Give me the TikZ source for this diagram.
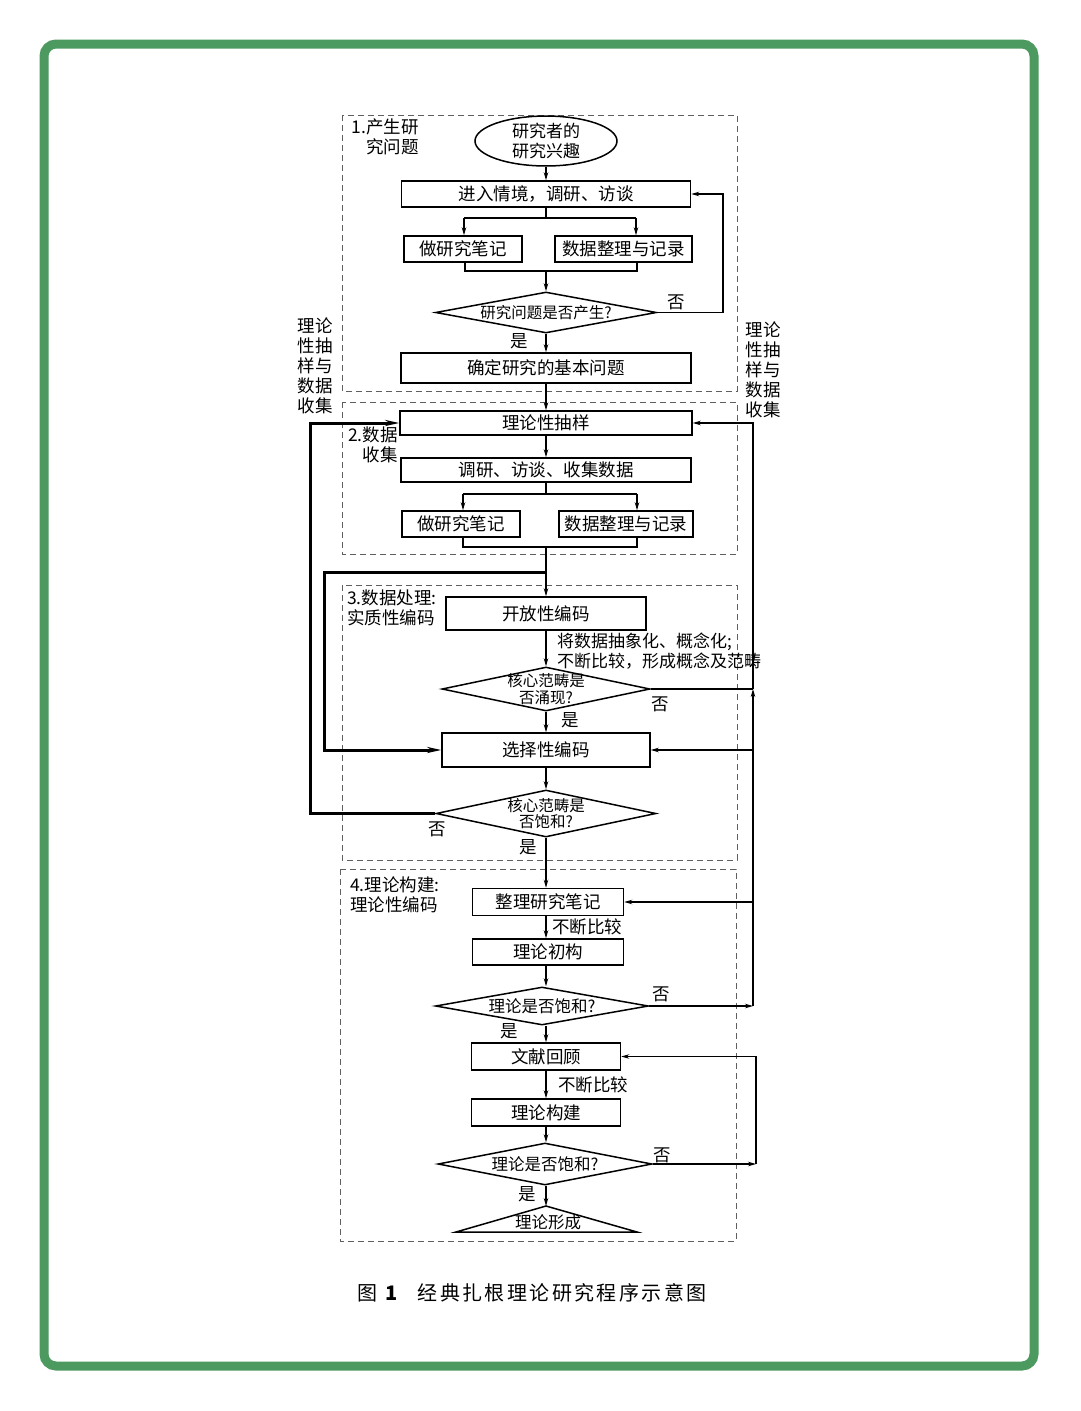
\documentclass[tikz,border=0pt]{standalone}
\usepackage{fontspec}
\setmainfont{Noto Sans CJK SC}
\usetikzlibrary{shapes.geometric,arrows.meta}
\definecolor{framec}{RGB}{76,154,96}
\definecolor{sectc}{RGB}{95,95,95}
\begin{document}
\begin{tikzpicture}[x=1pt,y=-1pt,
  box/.style={draw, line width=1.5pt, inner sep=0pt, font=\fontsize{17.5}{19}\selectfont},
  dia/.style={draw, diamond, line width=1.5pt, inner sep=0pt},
  dtxt/.style={font=\fontsize{15.5}{16.5}\selectfont, align=center, inner sep=0pt},
  lab/.style={font=\fontsize{17.5}{20}\selectfont, inner sep=0pt},
  sect/.style={draw=sectc, line width=0.9pt, dash pattern=on 6pt off 4pt},
  conn/.style={line width=1.1pt, -{Stealth[length=8pt,width=4.5pt]}},
  link/.style={line width=1.1pt},
  heavy/.style={line width=3pt, -{Stealth[length=14pt,width=6pt]}}]
\useasboundingbox (0,0) rectangle (1080,1411);
\fill[white] (0,0) rectangle (1080,1411);
\draw[draw=framec, line width=9pt, rounded corners=12pt] (44,44) rectangle (1034,1366);

% section frames
\draw[sect] (342,115) rectangle (737,391);
\draw[sect] (342,402) rectangle (737,554);
\draw[sect] (342,585) rectangle (737,860);
\draw[sect] (340,869) rectangle (736,1241);

% section labels
\node[lab, anchor=north east, align=right] (L1) at (419,119) {1.产生研\\究问题};
\node[lab, anchor=north east, align=right] (L2) at (398,427) {2.数据\\收集};
\node[lab, anchor=north west, align=left] (L3) at (347,590) {3.数据处理:\\实质性编码};
\node[lab, anchor=north west, align=left] (L4) at (350,877) {4.理论构建:\\理论性编码};
\node[lab, align=center, font=\fontsize{17.5}{20}\selectfont] (sideL) at (315,366) {理论\\性抽\\样与\\数据\\收集};
\node[lab, align=center, font=\fontsize{17.5}{20}\selectfont] (sideR) at (763,370) {理论\\性抽\\样与\\数据\\收集};

% section 1
\node[draw, ellipse, line width=1.5pt, minimum width=142pt, minimum height=44pt, inner sep=0pt, align=center, font=\fontsize{17}{19.5}\selectfont] (ell) at (546,141) {研究者的\\研究兴趣};
\node[box, minimum width=289pt, minimum height=26pt] (b1) at (546,194) {进入情境，调研、访谈};
\node[box, minimum width=118pt, minimum height=26pt] (n1) at (463,249) {做研究笔记};
\node[box, minimum width=137pt, minimum height=26pt] (n2) at (623.5,249) {数据整理与记录};
\node[dia, minimum width=221pt, minimum height=41pt] (d1) at (546,312.5) {};
\node[dtxt] (d1t) at (d1) {研究问题是否产生?};
\node[box, minimum width=290pt, minimum height=30pt] (b2) at (546,368) {确定研究的基本问题};
\node[lab] (no1) at (676,302) {否};
\node[lab] (yes1) at (519,341) {是};

\coordinate (s1L) at (464,218);
\coordinate (s1R) at (636,218);
\coordinate (s1C) at (546,218);
\coordinate (m1L) at (465,271);
\coordinate (m1R) at (637,271);
\coordinate (m1C) at (546,271);
\coordinate (r1) at (723,312.5);

\draw[conn] (ell) -- (b1);
\draw[link] (b1.south) -- (s1C);
\draw[link] (s1L) -- (s1R);
\draw[conn] (s1L) -- (s1L |- n1.north);
\draw[conn] (s1R) -- (s1R |- n2.north);
\draw[link] (m1L |- n1.south) -- (m1L) -- (m1R) -- (m1R |- n2.south);
\draw[conn] (m1C) -- (d1.north);
\draw[conn] (d1.east) -- (r1) |- (b1.east);
\draw[conn] (d1.south) -- (b2.north);

% section 2
\node[box, minimum width=292pt, minimum height=24pt] (b3) at (546,423) {理论性抽样};
\node[box, minimum width=290pt, minimum height=24pt] (b4) at (546,470) {调研、访谈、收集数据};
\node[box, minimum width=118pt, minimum height=26pt] (n3) at (461,524) {做研究笔记};
\node[box, minimum width=134pt, minimum height=26pt] (n4) at (626,524) {数据整理与记录};
\coordinate (s2L) at (463,494);
\coordinate (s2R) at (637,494);
\coordinate (s2C) at (546,494);
\coordinate (m2L) at (463,547);
\coordinate (m2R) at (637,547);
\coordinate (m2C) at (546,547);

\draw[conn] (b2.south) -- (b3.north);
\draw[conn] (b3.south) -- (b4.north);
\draw[link] (b4.south) -- (s2C);
\draw[link] (s2L) -- (s2R);
\draw[conn] (s2L) -- (s2L |- n3.north);
\draw[conn] (s2R) -- (s2R |- n4.north);
\draw[link] (m2L |- n3.south) -- (m2L) -- (m2R) -- (m2R |- n4.south);

% section 3
\node[box, minimum width=200pt, minimum height=33pt] (b5) at (546,613.5) {开放性编码};
\node[lab, anchor=north west, align=left, font=\fontsize{17}{20}\selectfont] (desc) at (557,633) {将数据抽象化、概念化;\\不断比较，形成概念及范畴};
\node[dia, minimum width=208pt, minimum height=44pt] (d2) at (546,689) {};
\node[dtxt] (d2t) at (d2) {核心范畴是\\否涌现?};
\node[box, minimum width=208pt, minimum height=34pt] (b6) at (546,750) {选择性编码};
\node[dia, minimum width=220pt, minimum height=47pt] (d3) at (546,813.5) {};
\node[dtxt] (d3t) at (d3) {核心范畴是\\否饱和?};
\node[lab] (no2) at (660,704) {否};
\node[lab] (yes2) at (570,720) {是};
\node[lab] (no3) at (437,829) {否};
\node[lab] (yes3) at (528,847) {是};

\draw[conn] (m2C) -- (b5.north);
\draw[conn] (b5.south) -- (d2.north);
\draw[conn] (d2.south) -- (b6.north);
\draw[conn] (b6.south) -- (d3.north);

\coordinate (t1) at (546,572);
\coordinate (t1c) at (324,572);
\draw[heavy] (t1) -- (t1c) |- (b6.west);
\coordinate (t2c) at (310,813.5);
\draw[heavy] (d3.west) -- (t2c) |- (b3.west);

% section 4
\node[box, minimum width=151pt, minimum height=27pt] (b7) at (548,902) {整理研究笔记};
\node[lab] (cmp1) at (587,927) {不断比较};
\node[box, minimum width=151pt, minimum height=26pt] (b8) at (548,952) {理论初构};
\node[dia, minimum width=213pt, minimum height=38pt] (d4) at (542,1006) {};
\node[dtxt, font=\fontsize{16.5}{18}\selectfont] (d4t) at (d4) {理论是否饱和?};
\node[lab] (no4) at (661,994) {否};
\node[lab] (yes4) at (509,1031) {是};
\node[box, minimum width=149pt, minimum height=27pt] (b9) at (546,1056.5) {文献回顾};
\node[lab] (cmp2) at (593,1085) {不断比较};
\node[box, minimum width=149pt, minimum height=27pt] (b10) at (546,1112.5) {理论构建};
\node[dia, minimum width=214pt, minimum height=42pt] (d5) at (545,1164) {};
\node[dtxt, font=\fontsize{16.5}{18}\selectfont] (d5t) at (d5) {理论是否饱和?};
\node[lab] (no5) at (662,1155) {否};
\node[lab] (yes5) at (527,1194) {是};
\coordinate (tri) at (546,1206);
\coordinate (triR) at (637,1232);
\coordinate (triL) at (456,1232);
\draw[line width=1.5pt, line join=miter] (tri) -- (triR) -- (triL) -- cycle;
\node[dtxt, font=\fontsize{16.5}{18}\selectfont] (trit) at (548,1222) {理论形成};

\draw[conn] (d3.south) -- (b7.north -| d3.south);
\draw[conn] (b7.south -| 546,0) -- (b8.north -| 546,0);
\draw[conn] (b8.south -| 546,0) -- (d4.north -| 546,0);
\draw[conn] (d4.south -| 546,0) -- (b9.north -| 546,0);
\draw[conn] (b9.south -| 546,0) -- (b10.north -| 546,0);
\draw[conn] (b10.south -| 546,0) -- (d5.north -| 546,0);
\draw[conn] (d5.south -| 546,0) -- (tri);

% right feedback lines
\coordinate (R423) at (753,423);
\coordinate (R689) at (753,689);
\coordinate (R750) at (753,750);
\coordinate (R902) at (753,902);
\coordinate (R1006) at (753,1006);
\draw[link] (d2.east) -- (R689);
\draw[conn] (d4.east) -- (R1006);
\draw[conn] (R1006) -- (R689);
\draw[conn] (R689) -- (R423) -- (b3.east);
\draw[conn] (R750) -- (b6.east);
\draw[conn] (R902) -- (b7.east);
\coordinate (R2) at (756,1164);
\draw[conn] (d5.east) -- (R2);
\draw[conn] (R2) |- (b9.east);

% caption
\node[font=\fontsize{20}{24}\selectfont, inner sep=0pt] (cap) at (532,1293) {图\hspace{8pt}\textbf{1}\hspace{20pt}\addfontfeatures{LetterSpace=12}经典扎根理论研究程序示意图};
\end{tikzpicture}
\end{document}
